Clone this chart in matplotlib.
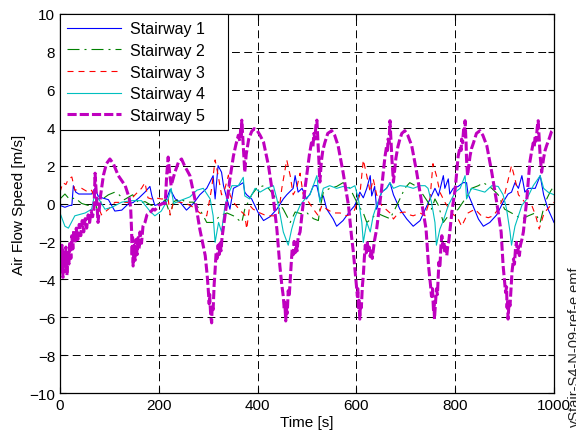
import matplotlib
matplotlib.use("Agg")
import matplotlib.pyplot as plt

plt.rcParams['font.family'] = ['Liberation Sans', 'DejaVu Sans']
plt.rcParams['font.size'] = 11

# ---------------- data ----------------
labels = ["Stairway 1", "Stairway 2", "Stairway 3", "Stairway 4", "Stairway 5"]

s1_t = [0, 10, 20, 24, 27, 32, 38, 50, 64, 71, 77, 85, 98, 111, 125, 139, 148, 160, 172, 182, 186, 192,
        205, 215, 223, 233, 243, 256, 270, 283, 297, 310, 314, 320, 327, 331, 338, 344, 351, 361, 371,
        374, 378, 388, 401, 412, 425, 439, 452, 459, 472, 476, 482, 490, 499, 506, 513, 520, 526, 533,
        540, 553, 560, 573, 587, 597, 607, 614, 621, 628, 631, 637, 641, 651, 661, 668, 675, 688, 702,
        715, 729, 749, 759, 766, 776, 779, 786, 789, 796, 806, 816, 823, 826, 833, 847, 857, 870, 884,
        897, 907, 914, 921, 928, 935, 941, 948, 962, 972, 979, 988, 1000]
s1_v = [-0.1, -0.2, -0.1, -0.1, 0.94, 0.6, 0.5, 0.5, 0.5, 0.8, 0.4, 0.3, 0.2, -0.4, -0.35, 0.0, 0.05, 0.3,
        0.6, 0.9, 0.4, -0.1, 0.0, 0.2, 0.75, 0.25, 0.07, -0.35, 0.0, 0.46, 0.8, 1.47, 0.24, 2.0, 1.65,
        0.94, 0.24, -0.3, 0.8, 0.94, 1.1, 0.6, 0.46, 0.24, -0.47, -0.9, -0.7, -0.3, 0.24, 0.46, 0.8, 1.47,
        0.6, 0.8, 0.24, 0.5, 0.94, 0.94, 0.24, 0.4, -0.3, -0.82, -1.2, -0.9, -0.4, -0.1, 0.6, 0.3, 0.8,
        1.47, 0.4, 0.9, -0.3, 0.6, 0.8, 1.1, 0.46, -0.3, -0.82, -1.2, -0.9, 0.24, 0.8, 0.4, 1.47, 0.8,
        1.3, 0.5, 0.8, 0.9, 1.1, 1.1, 0.5, 0.07, -0.82, -1.2, -1.0, -0.6, 0.07, 0.5, 0.6, 1.1, 0.8, 1.47,
        0.6, 0.8, 0.8, 1.47, 0.46, -0.3, -1.0]

s2_t = [0, 10, 20, 30, 44, 57, 71, 77, 84, 98, 111, 118, 130, 147, 160, 172, 185, 200, 213, 223, 230, 243,
        256, 270, 283, 297, 310, 324, 338, 351, 368, 374, 388, 398, 412, 422, 432, 442, 452, 466, 476,
        490, 500, 513, 523, 526, 533, 546, 560, 573, 587, 604, 614, 621, 631, 641, 654, 668, 678, 688,
        698, 708, 722, 735, 745, 752, 759, 766, 776, 786, 796, 806, 820, 833, 847, 857, 874, 887, 900,
        914, 924, 935, 948, 962, 972, 982, 992, 1000]
s2_v = [0.24, 0.5, 0.2, 0.3, 0.0, -0.1, 0.1, -0.5, 0.2, 0.46, 0.6, 0.5, 0.2, 0.46, 0.0, 0.1, -0.1, 0.0, 0.2,
        -0.6, 0.1, 0.24, 0.07, 0.07, -0.3, -1.0, -1.0, -0.65, -0.5, -0.65, -1.0, -0.3, 0.46, 0.8, 0.94,
        0.8, 0.46, 0.07, -0.3, -1.0, -0.45, -0.55, -0.5, -0.8, -0.9, -0.3, 0.6, 0.8, 0.9, 1.1, 0.8, -0.1,
        -0.5, -1.0, -0.8, -0.5, -0.65, -0.8, -0.3, 0.24, 0.8, 1.1, 0.9, 0.46, 0.07, -0.3, 0.24, -0.1,
        -1.0, -0.65, -0.5, -0.3, 0.24, 0.8, 0.94, 1.1, 0.8, 0.46, -0.3, -0.5, -0.65, -0.82, -0.65, -0.5,
        -1.0, 0.07, 0.6, 0.94]

s3_t = [0, 6, 12, 17, 24, 30, 44, 57, 64, 71, 84, 98, 111, 125, 138, 152, 165, 172, 178, 185, 192, 205,
        219, 223, 230, 243, 256, 270, 283, 297, 307, 314, 320, 327, 334, 341, 344, 351, 364, 374, 378,
        384, 391, 405, 418, 432, 442, 449, 459, 466, 472, 479, 486, 492, 499, 513, 523, 530, 540, 553,
        567, 580, 594, 607, 614, 621, 628, 634, 641, 651, 668, 675, 685, 698, 708, 715, 729, 739, 749,
        755, 762, 769, 779, 793, 806, 813, 826, 840, 853, 867, 877, 887, 900, 914, 921, 928, 941, 955,
        963, 970, 980, 990, 1000]
s3_v = [0.6, 1.1, 1.0, 1.3, 1.4, 0.7, 0.8, 0.6, 0.7, 0.24, -0.6, -0.3, 0.06, 0.06, 0.06, 0.46, 0.8, 1.1,
        0.3, 0.24, 0.3, 0.24, 0.24, -0.6, 0.1, 0.07, 0.0, -0.2, -0.5, -0.65, 0.8, 2.3, 1.5, 0.46, 0.8,
        1.5, 0.46, 0.07, -0.35, -0.6, -1.35, -0.1, -0.3, -0.5, -0.65, -0.65, -0.65, 0.8, 2.3, 1.47, 0.46,
        0.8, 1.6, 0.5, 0.24, -0.3, -0.65, -0.1, -0.3, -0.5, -0.5, -0.65, -0.5, 0.46, 2.3, 1.47, 0.6, 1.3,
        0.46, -0.1, -0.5, -0.82, -0.5, -0.45, -0.6, -0.65, -0.5, -0.65, 0.24, 2.1, 1.47, 0.6, 0.07, -0.5,
        -0.82, -1.2, -0.5, -0.3, -0.65, -0.75, -0.65, -0.3, 0.46, 2.0, 1.3, 0.46, 0.07, -0.1, -0.65,
        -1.35, -0.5, -0.2, 0.07]

s4_t = [0, 10, 17, 30, 51, 64, 71, 74, 77, 91, 105, 125, 145, 165, 182, 192, 205, 219, 225, 230, 243, 263,
        277, 290, 304, 310, 314, 321, 327, 334, 341, 348, 361, 371, 374, 384, 395, 405, 418, 432, 439,
        445, 452, 462, 469, 476, 486, 496, 506, 520, 526, 533, 546, 560, 573, 587, 597, 604, 611, 614,
        621, 628, 634, 641, 651, 661, 668, 675, 688, 702, 715, 729, 739, 745, 752, 759, 762, 769, 776,
        786, 800, 810, 820, 823, 833, 847, 860, 874, 887, 897, 904, 911, 914, 921, 928, 935, 945, 958,
        972, 979, 988, 1000]
s4_v = [-0.5, -1.2, -1.3, -0.65, -0.5, -0.3, 0.6, -0.1, 0.3, -0.3, -0.2, 0.07, 0.15, 0.15, -0.4, -0.65,
        -0.4, 0.24, 0.8, 0.0, 0.15, 0.35, 0.7, 0.8, 0.24, -0.65, -2.05, -1.0, -1.5, -0.1, 0.5, 0.94, 0.94,
        1.38, 0.4, 0.24, 0.8, 0.6, 0.8, 0.94, 0.24, -0.5, -1.5, -2.2, -1.35, -0.7, -0.1, 0.24, 0.46, 1.47,
        0.07, 0.8, 0.94, 0.8, 0.9, 0.8, 0.94, 0.24, -1.0, -2.05, -1.0, -1.5, -0.65, -0.1, 0.6, 0.8, 1.1,
        0.8, 0.94, 0.9, 0.8, 0.94, 0.94, 0.8, 0.07, -1.0, -2.2, -1.35, -0.9, -0.1, 0.6, 0.8, 1.47, 0.24,
        0.8, 0.7, 0.6, 0.94, 0.9, 0.46, -0.3, -1.5, -2.2, -1.2, -0.65, -0.1, 0.24, 0.94, 1.47, 0.8, 0.6,
        0.46]

s5_t = [0, 2, 4, 6, 8, 10, 12, 14, 16, 18, 20, 22, 24, 26, 28, 30, 33, 36, 39, 42, 45, 48, 51, 54, 57, 60,
        63, 66, 69, 71, 74, 77, 82, 88, 94, 101, 108, 118, 132, 140, 143, 145, 146, 147, 148, 150, 152,
        154, 156, 158, 160, 162, 165, 168, 172, 176, 182, 188, 192, 200, 208, 213, 216, 219, 222, 225,
        232, 240, 246, 252, 263, 273, 283, 294, 298, 300, 302, 303, 305, 307, 308, 310, 312, 314, 316,
        318, 320, 322, 324, 326, 328, 331, 334, 339, 344, 351, 356, 361, 364, 366, 367, 368, 370, 372,
        374, 377, 382, 388, 393, 398, 405, 412, 422, 432, 439, 445, 449, 452, 454, 455, 457, 458, 460,
        462, 464, 466, 468, 470, 472, 474, 476, 478, 480, 482, 486, 491, 496, 500, 505, 509, 512, 514,
        516, 518, 520, 522, 524, 526, 529, 532, 536, 542, 550, 556, 563, 573, 584, 590, 594, 597, 600,
        602, 603, 604, 605, 607, 608, 610, 612, 614, 616, 618, 620, 622, 624, 626, 628, 630, 632, 634,
        637, 641, 646, 651, 655, 658, 661, 663, 664, 666, 668, 670, 672, 675, 680, 684, 688, 692, 698,
        704, 712, 722, 732, 741, 746, 748, 750, 752, 754, 756, 757, 758, 760, 762, 764, 767, 769, 771,
        773, 775, 777, 779, 781, 783, 785, 787, 789, 794, 800, 806, 810, 812, 813, 815, 817, 818, 820,
        822, 823, 825, 830, 833, 837, 843, 850, 856, 864, 874, 884, 893, 897, 900, 902, 904, 905, 906,
        907, 909, 911, 913, 915, 918, 920, 922, 924, 926, 928, 930, 932, 935, 938, 945, 951, 955, 958,
        960, 962, 964, 966, 968, 970, 972, 975, 979, 982, 985, 990, 995, 1000]
s5_v = [-2.4, -3.6, -2.2, -3.9, -2.6, -3.4, -2.3, -3.8, -2.5, -3.2, -2.0, -2.9, -1.7, -2.4, -1.4, -2.1,
        -1.3, -1.9, -1.1, -1.7, -0.9, -1.5, -0.8, -1.3, -0.6, -1.0, -0.4, -0.7, -0.2, 1.6, 0.3, -1.0, 0.4,
        1.5, 2.1, 2.35, 2.1, 1.47, 0.94, 0.3, -0.2, -1.5, -2.8, -1.8, -3.3, -2.2, -3.0, -1.9, -2.7, -1.8,
        -2.4, -1.5, -2.1, -1.2, -1.0, -0.6, -0.5, -0.3, -0.35, -0.1, 0.0, 0.0, 1.5, 2.45, 1.6, 0.94, 1.6,
        2.2, 2.35, 2.0, 1.47, 0.24, -1.35, -2.75, -3.8, -4.5, -5.3, -4.8, -5.9, -6.3, -5.4, -5.6, -4.3,
        -3.5, -2.6, -2.9, -2.2, -2.7, -2.1, -2.5, -1.8, -1.2, -0.64, 0.3, 1.3, 2.5, 3.1, 3.6, 3.3, 4.0,
        3.6, 4.4, 3.5, 2.6, 1.66, 2.6, 3.4, 3.8, 3.95, 3.9, 3.6, 3.24, 2.0, 0.24, -1.35, -3.28, -4.3,
        -4.9, -5.6, -5.2, -6.2, -5.5, -5.8, -4.6, -4.9, -4.0, -3.2, -2.4, -2.7, -2.0, -2.6, -2.1, -2.5,
        -1.8, -1.5, -0.3, 0.8, 1.6, 2.6, 3.2, 3.0, 3.7, 3.4, 4.1, 4.4, 3.4, 2.3, 1.13, 2.2, 2.8, 3.2, 3.7,
        3.84, 3.6, 3.05, 1.65, -0.11, -1.7, -2.6, -3.46, -4.3, -4.9, -4.5, -5.5, -5.1, -6.1, -5.3, -5.5,
        -4.4, -3.8, -2.9, -2.2, -2.6, -2.0, -2.6, -2.3, -2.8, -2.4, -2.9, -2.5, -1.9, -1.35, -0.3, 0.77,
        1.8, 2.5, 3.0, 2.8, 3.4, 3.2, 4.37, 3.3, 2.3, 1.13, 2.4, 3.0, 3.4, 3.7, 3.84, 3.6, 3.05, 1.65,
        0.07, -1.35, -3.28, -3.8, -4.3, -4.9, -4.5, -5.6, -5.2, -6.1, -5.3, -4.5, -4.8, -3.1, -3.4, -2.3,
        -1.7, -2.3, -2.0, -2.6, -2.3, -2.75, -2.2, -2.0, -1.5, -0.3, 0.77, 2.5, 3.0, 2.8, 3.4, 3.2, 3.9,
        3.6, 4.37, 3.2, 2.3, 1.47, 2.5, 2.9, 3.2, 3.7, 3.84, 3.6, 3.05, 1.65, 0.06, -1.5, -3.28, -4.1,
        -4.7, -4.4, -5.5, -5.1, -6.1, -5.2, -5.4, -4.5, -3.6, -2.93, -3.2, -2.4, -2.05, -2.6, -2.3, -2.75,
        -2.2, -1.9, -1.5, 0.24, 2.17, 2.8, 3.2, 3.0, 3.6, 3.3, 4.0, 4.37, 3.4, 2.5, 1.65, 2.4, 2.8, 3.05,
        3.4, 3.8, 3.93]

x_ticks = [0, 200, 400, 600, 800, 1000]
y_ticks = [-10, -8, -6, -4, -2, 0, 2, 4, 6, 8, 10]

# ---------------- figure ----------------
W, H = 576, 439
fig = plt.figure(figsize=(W / 100, H / 100), dpi=100)
ax = fig.add_axes([60 / W, 1 - 394 / H, (554 - 60) / W, (394 - 15) / H])

ax.plot(s1_t, s1_v, color=(0, 0, 1), lw=0.8, label=labels[0])
ax.plot(s2_t, s2_v, color=(0, 0.5, 0), lw=0.8, dashes=(10.8, 4.5, 1.8, 4.5), label=labels[1])
ax.plot(s3_t, s3_v, color=(1, 0, 0), lw=0.8, dashes=(5.4, 4.5), label=labels[2])
ax.plot(s4_t, s4_v, color=(0, 0.75, 0.75), lw=0.8, label=labels[3])
ax.plot(s5_t, s5_v, color=(0.75, 0, 0.75), lw=2.2, dashes=(3.0, 1.0), label=labels[4])

ax.set_xlim(0, 1000)
ax.set_ylim(-10, 10)
ax.set_xticks(x_ticks)
ax.set_yticks(y_ticks)
ax.grid(True, color='k', lw=0.7, dashes=(8.1, 4.5))
ax.tick_params(direction='in', length=4, top=True, right=True, labelsize=11, width=0.8)
for sp in ax.spines.values():
    sp.set_linewidth(0.9)

ax.set_xlabel("Time [s]", fontsize=11, labelpad=2)
ax.set_ylabel("Air Flow Speed [m/s]", fontsize=11, labelpad=2)

leg = ax.legend(loc='upper left', bbox_to_anchor=(0, 0, 168 / 494, 1), mode='expand',
                borderaxespad=0, fontsize=11.5, handlelength=3.4,
                handletextpad=0.55, labelspacing=0.42, borderpad=0.45, fancybox=False,
                framealpha=1, edgecolor='k')
leg.get_frame().set_linewidth(0.8)

fig.text(575 / W, 12 / H, "vStair-S4-N-09-ref-e.emf", rotation=90, ha='center', va='bottom',
         fontsize=10.5, color='#222222')

fig.savefig("out.png", dpi=100)
